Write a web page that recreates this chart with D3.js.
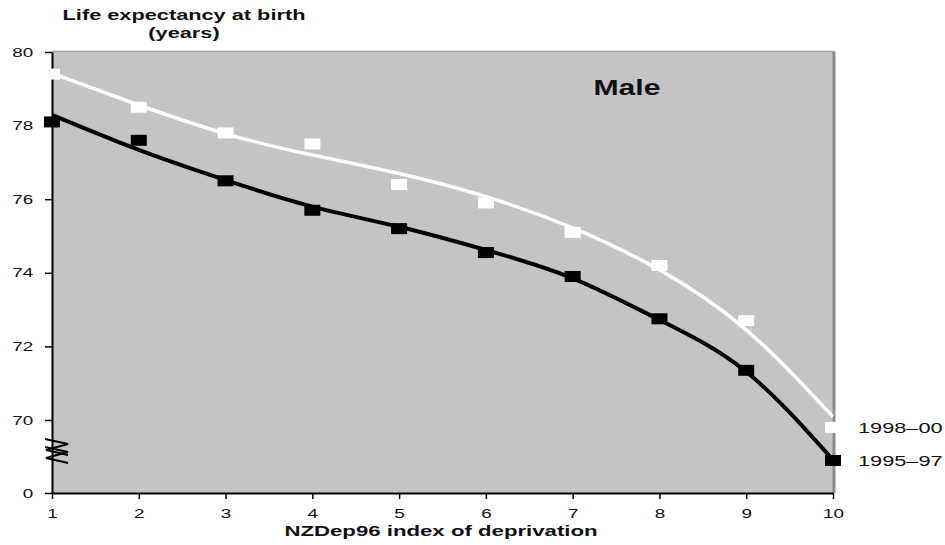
<!DOCTYPE html>
<html>
<head>
<meta charset="utf-8">
<script src="https://cdn.jsdelivr.net/npm/d3@7"></script>
<style>
  body { margin: 0; background: #fff; }
  text { font-family: "Liberation Sans", Arial, sans-serif; fill: #111; }
</style>
</head>
<body>
<div id="chart"></div>
<script>
// NZDep96 deciles
const deciles = [1, 2, 3, 4, 5, 6, 7, 8, 9, 10];

// observed life expectancy (years), male
const male9800 = [79.4, 78.5, 77.8, 77.5, 76.4, 75.9, 75.1, 74.2, 72.7, 69.8];
const male9597 = [78.1, 77.6, 76.5, 75.7, 75.2, 74.55, 73.9, 72.75, 71.35, 68.9];

// fitted trend lines read at each decile
const trend9800 = [79.42, 78.56, 77.78, 77.2, 76.7, 76.07, 75.22, 74.08, 72.45, 70.09];
const trend9597 = [78.29, 77.34, 76.52, 75.8, 75.25, 74.62, 73.85, 72.72, 71.31, 68.91];

const yTicks = [0, 70, 72, 74, 76, 78, 80];
const seriesLabels = ["1998\u201300", "1995\u201397"];

const width = 945, height = 545;
const stretch = 1.45; // the original text is stretched sideways

const svg = d3.select("#chart").append("svg")
    .attr("width", width)
    .attr("height", height);

const x = d3.scaleLinear().domain([1, 10]).range([52, 833]);
// data scale (upper segment, extrapolates slightly below 70)
const y = d3.scaleLinear().domain([70, 80]).range([420, 52]);
// axis scale with the break between 0 and 70
const yAxisScale = d3.scaleLinear().domain([0, 70, 80]).range([493, 420, 52]);

// plot background
svg.append("rect")
    .attr("x", x(1)).attr("y", y(80))
    .attr("width", x(10) - x(1)).attr("height", yAxisScale(0) - y(80))
    .attr("fill", "#c5c3c6");
svg.append("line")
    .attr("x1", x(1)).attr("x2", x(10) + 2)
    .attr("y1", y(80) - 0.5).attr("y2", y(80) - 0.5)
    .attr("stroke", "#a3a3a3").attr("stroke-width", 1.5);
svg.append("line")
    .attr("x1", x(10) + 1).attr("x2", x(10) + 1)
    .attr("y1", y(80)).attr("y2", yAxisScale(0))
    .attr("stroke", "#8c8c8c").attr("stroke-width", 3);

// axes
const yAxis = svg.append("g")
    .attr("transform", `translate(${x(1)},0)`)
    .call(d3.axisLeft(yAxisScale).tickValues(yTicks).tickSize(7).tickSizeOuter(0).tickPadding(6));
const xAxis = svg.append("g")
    .attr("transform", `translate(0,${yAxisScale(0)})`)
    .call(d3.axisBottom(x).tickValues(deciles).tickSize(6).tickSizeOuter(0).tickPadding(10));

[yAxis, xAxis].forEach(g => {
    g.select(".domain").attr("stroke", "#000").attr("stroke-width", 2);
    g.selectAll(".tick line").attr("stroke", "#000").attr("stroke-width", 1.5);
    g.selectAll(".tick text")
        .attr("font-size", 13)
        .attr("font-family", "Liberation Sans, Arial, sans-serif")
        .attr("fill", "#111")
        .attr("transform", `scale(${stretch},1)`);
});

// axis break zigzag
const zig = d3.line();
[[[45, 439], [68, 444], [46, 450], [68, 455]],
 [[45, 447], [68, 452], [46, 458], [68, 463]]].forEach(pts => {
    svg.append("path")
        .attr("d", zig(pts))
        .attr("fill", "none")
        .attr("stroke", "#000")
        .attr("stroke-width", 2);
});

// trend lines
const trendLine = d3.line()
    .x((d, i) => x(deciles[i]))
    .y(d => y(d))
    .curve(d3.curveNatural);

svg.append("path").datum(trend9800)
    .attr("d", trendLine)
    .attr("fill", "none").attr("stroke", "#fff").attr("stroke-width", 3.5);
svg.append("path").datum(trend9597)
    .attr("d", trendLine)
    .attr("fill", "none").attr("stroke", "#000").attr("stroke-width", 4);

// markers
const sqW = 16, sqH = 11;
function markers(values, colour) {
    svg.append("g").selectAll("rect")
        .data(values)
        .join("rect")
        .attr("x", (d, i) => x(deciles[i]) - sqW / 2)
        .attr("y", d => y(d) - sqH / 2)
        .attr("width", sqW).attr("height", sqH)
        .attr("fill", colour);
}
markers(male9800, "#fff");
markers(male9597, "#000");

// series labels next to the last points
svg.append("text")
    .attr("transform", `translate(858,${y(male9800[9]) + 6}) scale(${stretch},1)`)
    .attr("font-size", 15)
    .text(seriesLabels[0]);
svg.append("text")
    .attr("transform", `translate(858,${y(male9597[9]) + 6}) scale(${stretch},1)`)
    .attr("font-size", 15)
    .text(seriesLabels[1]);

// panel label
svg.append("text")
    .attr("transform", `translate(627,95) scale(1.37,1)`)
    .attr("text-anchor", "middle")
    .attr("font-size", 22)
    .attr("font-weight", "bold")
    .text("Male");

// axis titles
svg.append("text")
    .attr("transform", `translate(184,20) scale(${stretch},1)`)
    .attr("text-anchor", "middle")
    .attr("font-size", 15)
    .attr("font-weight", "bold")
    .text("Life expectancy at birth");
svg.append("text")
    .attr("transform", `translate(184,38) scale(${stretch},1)`)
    .attr("text-anchor", "middle")
    .attr("font-size", 15)
    .attr("font-weight", "bold")
    .text("(years)");
svg.append("text")
    .attr("transform", `translate(441,536) scale(1.48,1)`)
    .attr("text-anchor", "middle")
    .attr("font-size", 15)
    .attr("font-weight", "bold")
    .text("NZDep96 index of deprivation");
</script>
</body>
</html>
